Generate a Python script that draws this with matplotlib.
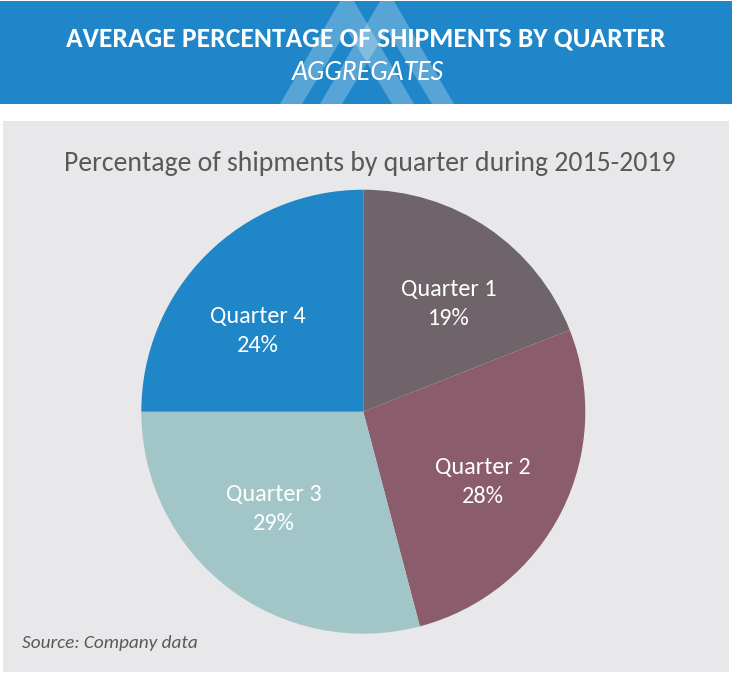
import matplotlib
matplotlib.use("Agg")
import matplotlib.pyplot as plt
from matplotlib import font_manager
from matplotlib.patches import Rectangle, Polygon

W, H = 732, 675

title = "AVERAGE PERCENTAGE OF SHIPMENTS BY QUARTER"
subtitle = "AGGREGATES"
chart_title = "Percentage of shipments by quarter during 2015-2019"
source = "Source: Company data"

quarters = ["Quarter 1", "Quarter 2", "Quarter 3", "Quarter 4"]
shares = [19.0, 26.9, 29.1, 25.0]  # wedge sizes as drawn
pct_labels = ["19%", "28%", "29%", "24%"]  # labels as printed
colors = ["#6e646a", "#8b5c6c", "#a2c6c8", "#1f86c8"]

header_blue = "#1f87c9"
panel_gray = "#e8e8ea"
text_gray = "#595959"


def first_font(names):
    for name in names:
        try:
            font_manager.findfont(name, fallback_to_default=False)
            return name
        except ValueError:
            pass
    return "DejaVu Sans"


font = first_font(["Carlito", "Lato", "Open Sans"])
title_font = first_font(["Carlito", "Fira Sans Condensed", "Roboto Condensed",
                         "PT Sans Narrow", "Source Sans 3", "Lato"])

fig = plt.figure(figsize=(W / 100, H / 100), dpi=100)
fig.patch.set_facecolor("white")
renderer = fig.canvas.get_renderer()


def fit_width(txt, width_px):
    # scale the font so the text spans the same width as in the reference
    w = txt.get_window_extent(renderer).width
    txt.set_fontsize(txt.get_fontsize() * width_px / w)


# background layer in pixel coordinates
bg = fig.add_axes([0, 0, 1, 1])
bg.set_xlim(0, W)
bg.set_ylim(H, 0)
bg.axis("off")

bg.add_patch(Rectangle((0, 1), W, 103, color=header_blue, lw=0))
# light "M" logo behind the header text
for apex in (347, 387):
    left = [(apex - 67, 104), (apex - 4, -4), (apex, 30), (apex - 45, 104)]
    right = [(apex + 67, 104), (apex + 4, -4), (apex, 30), (apex + 45, 104)]
    top = [(apex - 4, -4), (apex + 4, -4), (apex, 30)]
    for pts in (left, right, top):
        bg.add_patch(Polygon(pts, closed=True, color="white", alpha=0.25, lw=0))
bg.add_patch(Rectangle((0, 0), W, 1, color="white", lw=0))

bg.add_patch(Rectangle((3, 121), W - 6, 551, color=panel_gray, lw=0))

t1 = bg.text(W / 2, 39, title, color="white", fontsize=18, fontweight="bold",
             family=title_font, ha="center", va="center")
t2 = bg.text(W / 2 + 2, 73, subtitle, color="white", fontsize=18, style="italic",
             family=font, ha="center", va="center")
t3 = bg.text(W / 2 + 4, 163, chart_title, color=text_gray, fontsize=18,
             family=font, ha="center", va="center")
t4 = bg.text(22, 643, source, color=text_gray, fontsize=13, style="italic",
             family=font, ha="left", va="center")
fit_width(t1, 600)
fit_width(t2, 152)
fit_width(t3, 610)
fit_width(t4, 175)

# pie, center (363, 412), radius 222 px
cx, cy, r = 363.3, 411.7, 222
pie_ax = fig.add_axes([(cx - r) / W, (H - cy - r) / H, 2 * r / W, 2 * r / H])
labels = [f"{q}\n{p}" for q, p in zip(quarters, pct_labels)]
wedges, texts = pie_ax.pie(shares, colors=colors, startangle=90, counterclock=False,
                           labels=labels, labeldistance=0.61,
                           wedgeprops=dict(linewidth=0),
                           textprops=dict(color="white", fontsize=15, family=font,
                                          ha="center", va="center", linespacing=1.45))
# small nudges (pixels right, pixels down) to match the reference label placement
nudges = [(9, 4), (-1, 9), (-7, -10), (-10, 15)]
for t, (dx, dy) in zip(texts, nudges):
    x, y = t.get_position()
    t.set_position((x + dx / r, y - dy / r))
    fit_width(t, 96)
pie_ax.set_xlim(-1, 1)
pie_ax.set_ylim(-1, 1)
pie_ax.set_aspect("equal")
pie_ax.axis("off")

fig.savefig("out.png", dpi=100, facecolor="white")
